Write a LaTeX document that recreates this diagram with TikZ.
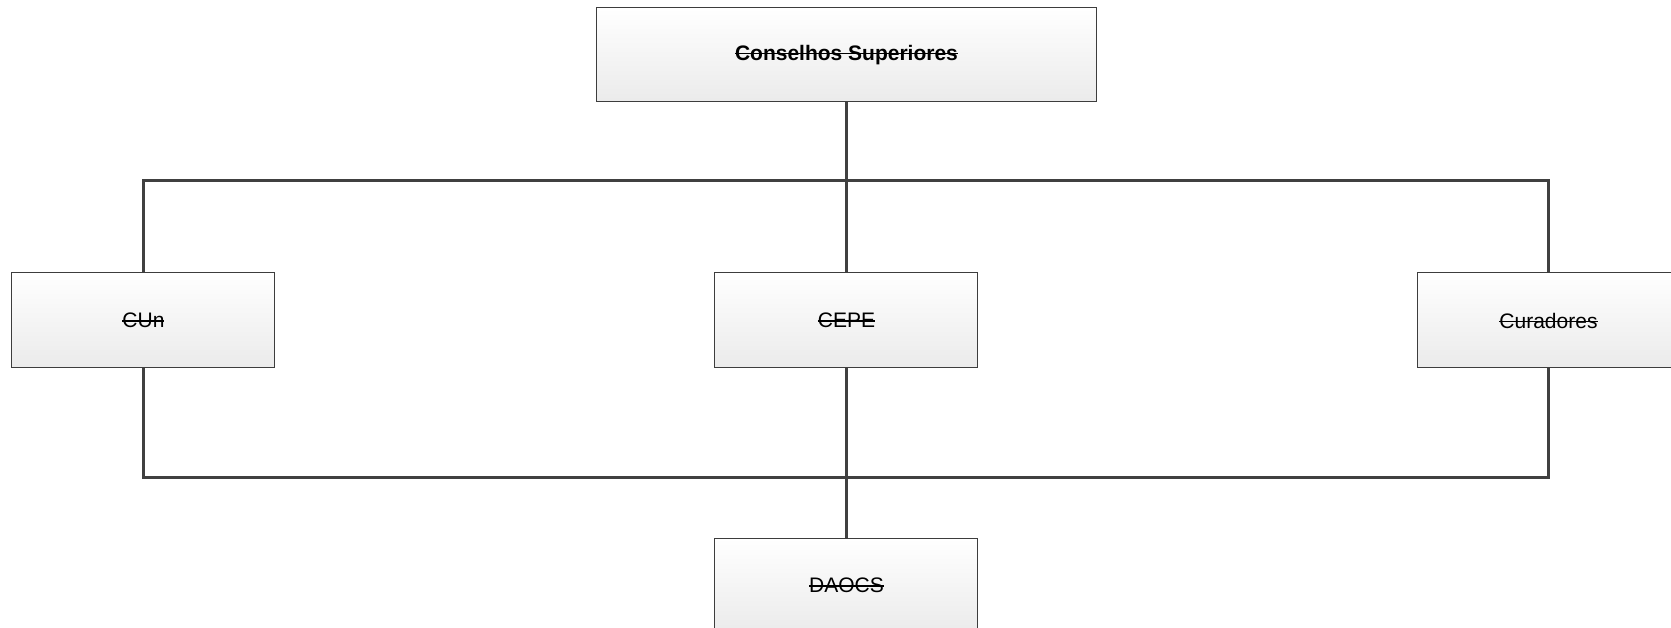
\documentclass[tikz,border=0pt]{standalone}
\usepackage{fontspec}
\setmainfont{Liberation Sans}
\usetikzlibrary{positioning}
\usetikzlibrary{calc}

\newsavebox{\strikebox}
\newcommand{\strikeout}[1]{\sbox{\strikebox}{#1}\rlap{\rule[0.55ex]{\wd\strikebox}{1.3pt}}\usebox{\strikebox}}

\begin{document}
\begin{tikzpicture}[x=1pt,y=1pt,font=\fontsize{21}{25}\selectfont,
                      node distance=170pt and 439pt,
                      unit/.style={draw=black!76,line width=1pt,top color=white,bottom color=black!8,
                                   minimum width=263pt,minimum height=95pt,inner sep=0pt,align=center},
                      head/.style={unit,minimum width=499pt,minimum height=94pt,font=\fontsize{21}{25}\selectfont\bfseries},
                      link/.style={draw=black!75,line width=3pt},
                      ]
    \useasboundingbox (-846.5,55) rectangle (824.5,-573);
    \node[head] (conselhos) {\strikeout{Conselhos Superiores}};
    \node[unit,below=of conselhos] (cepe) {\strikeout{CEPE}};
    \node[unit,left=of cepe] (cun) {\strikeout{CUn}};
    \node[unit,right=438pt of cepe] (curadores) {\strikeout{Curadores}};
    \node[unit,below=169pt of cepe] (daocs) {\strikeout{DAOCS}};

    \coordinate (upbus) at ($(conselhos.south)+(0,-78)$);
    \coordinate (lowbus) at ($(cepe.south)+(0,-109)$);

    \draw[link] (conselhos) -- (cepe);
    \draw[link] (cun.north) |- (upbus) -| (curadores.north);
    \draw[link] (cun.south) |- (lowbus) -| (curadores.south);
    \draw[link] (cepe) -- (daocs);
  \end{tikzpicture}
\end{document}
